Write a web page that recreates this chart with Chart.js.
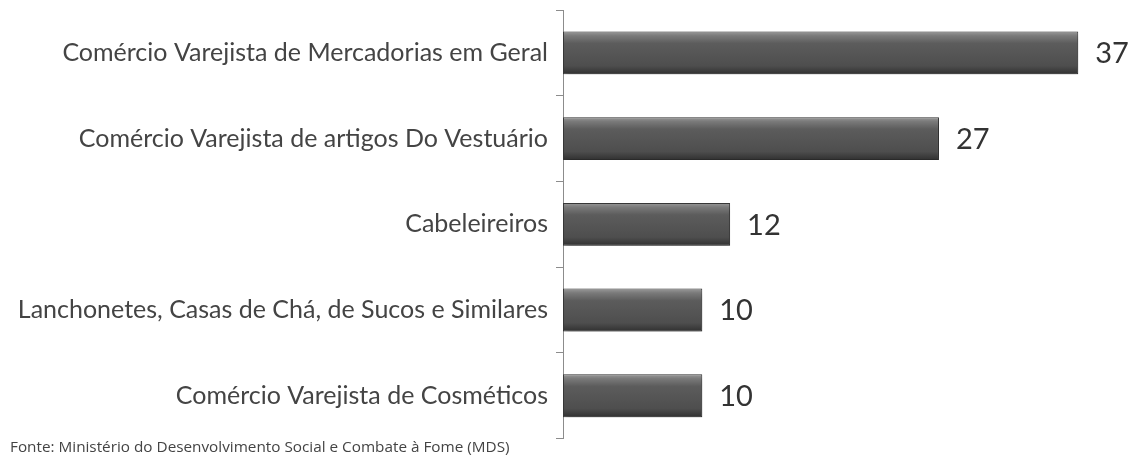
<!DOCTYPE html>
<html>
<head>
<meta charset="utf-8">
<script src="https://cdn.jsdelivr.net/npm/chart.js@4/dist/chart.umd.min.js"></script>
<style>
  html, body { margin: 0; padding: 0; background: #fff; }
  #wrap { width: 1136px; height: 459px; }
</style>
</head>
<body>
<div id="wrap"><canvas id="grafico"></canvas></div>
<script>
// Atividades (de cima para baixo)
const categorias = [
    'Comércio Varejista de Mercadorias em Geral',
    'Comércio Varejista de artigos Do Vestuário',
    'Cabeleireiros',
    'Lanchonetes, Casas de Chá, de Sucos e Similares',
    'Comércio Varejista de Cosméticos'
];
const valores = [37, 27, 12, 10, 10];
const fonte = 'Fonte: Ministério do Desenvolvimento Social e Combate à Fome (MDS)';

const PCT_CATEGORIA = 0.5;

// Degradê vertical em cada barra (efeito 3D)
function corBarra(context) {
    const chart = context.chart;
    const y = chart.scales.y;
    if (!y || !chart.chartArea || context.dataIndex === undefined) return '#555';
    const centro = y.getPixelForValue(context.dataIndex);
    const meia = (y.height / categorias.length) * PCT_CATEGORIA / 2;
    const g = chart.ctx.createLinearGradient(0, centro - meia, 0, centro + meia);
    g.addColorStop(0, '#9a9a9a');
    g.addColorStop(0.1, '#7a7a7a');
    g.addColorStop(0.28, '#5c5c5c');
    g.addColorStop(0.8, '#4e4e4e');
    g.addColorStop(1, '#303030');
    return g;
}

// Sombra sob as barras
const sombra = {
    id: 'sombra',
    beforeDatasetsDraw(chart) {
        const ctx = chart.ctx;
        ctx.save();
        ctx.shadowColor = 'rgba(0,0,0,0.35)';
        ctx.shadowBlur = 6;
        ctx.shadowOffsetX = 2;
        ctx.shadowOffsetY = 3;
    },
    afterDatasetsDraw(chart) {
        chart.ctx.restore();
    }
};

// Valores à direita das barras
const rotulos = {
    id: 'rotulos',
    afterDatasetsDraw(chart) {
        const ctx = chart.ctx;
        const meta = chart.getDatasetMeta(0);
        ctx.save();
        ctx.font = '29px Lato';
        ctx.fillStyle = '#333';
        ctx.textAlign = 'left';
        ctx.textBaseline = 'middle';
        meta.data.forEach((bar, i) => {
            ctx.fillText(valores[i], bar.x + 17, bar.y + 1);
        });
        ctx.restore();
    }
};

new Chart(document.getElementById('grafico'), {
    type: 'bar',
    data: {
        labels: categorias,
        datasets: [{
            data: valores,
            backgroundColor: corBarra,
            borderColor: '#3a3a3a',
            borderWidth: 1,
            borderSkipped: false,
            categoryPercentage: PCT_CATEGORIA,
            barPercentage: 1
        }]
    },
    options: {
        indexAxis: 'y',
        responsive: true,
        maintainAspectRatio: false,
        animation: false,
        layout: { padding: { top: 10, right: 16, left: 10, bottom: 0 } },
        plugins: {
            legend: { display: false },
            tooltip: { enabled: false },
            title: {
                display: true,
                text: fonte,
                position: 'bottom',
                align: 'start',
                color: '#444',
                font: { family: 'Open Sans', size: 15.3, weight: 'normal' },
                padding: { top: 0, bottom: 2 }
            }
        },
        scales: {
            x: {
                display: false,
                min: 0,
                max: 40
            },
            y: {
                afterFit(scale) {
                    scale.width = 553;
                    scale.paddingTop = 0;
                    scale.paddingBottom = 0;
                },
                border: { display: true, color: '#8c8c8c', width: 1 },
                grid: {
                    display: true,
                    drawOnChartArea: false,
                    offset: true,
                    tickLength: 7,
                    color: '#8c8c8c'
                },
                ticks: {
                    color: '#444',
                    padding: 8,
                    font: { family: 'Lato', size: 25 }
                }
            }
        }
    },
    plugins: [sombra, rotulos]
});
</script>
</body>
</html>
